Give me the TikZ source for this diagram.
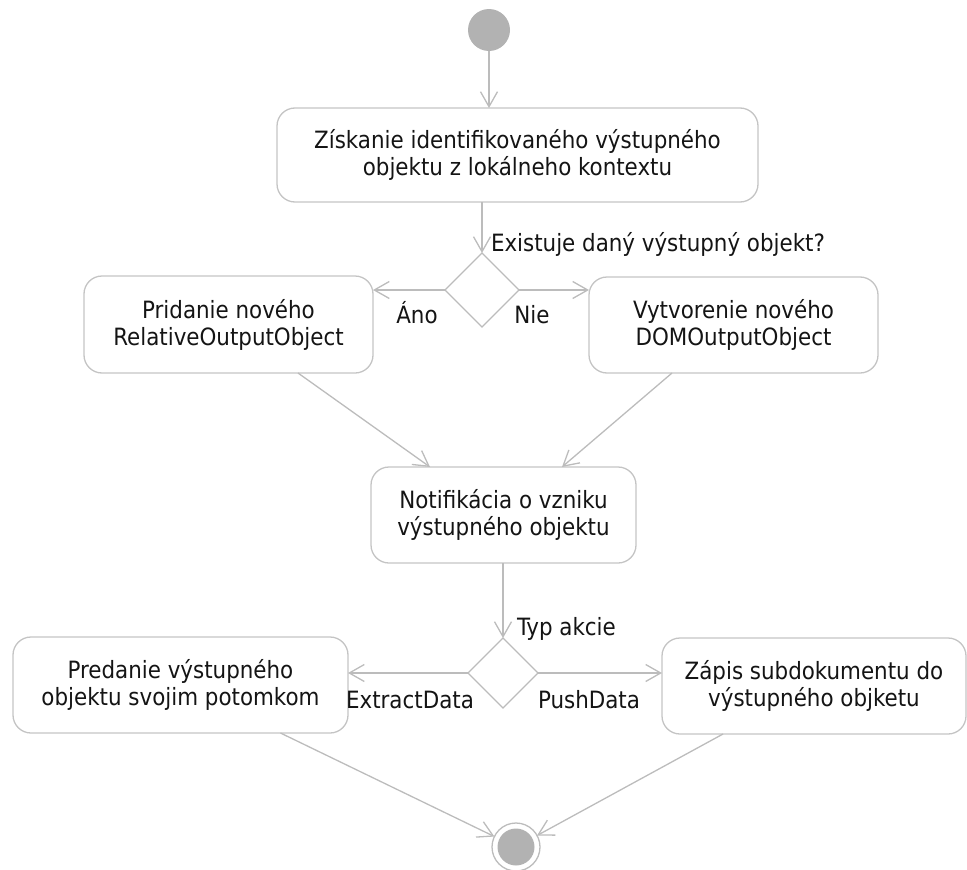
\documentclass[tikz,border=0pt]{standalone}
\usepackage{fontspec}
\setmainfont{DejaVu Sans Condensed}
\usetikzlibrary{arrows.meta,shapes.geometric}
\definecolor{linegray}{RGB}{188,188,188}
\definecolor{boxgray}{RGB}{196,196,196}
\definecolor{fillgray}{RGB}{178,178,178}
\definecolor{txt}{RGB}{20,20,20}
\begin{document}
\begin{tikzpicture}[x=1pt,y=-1pt,
  every node/.style={inner sep=0pt, outer sep=0pt, text=txt, font=\fontsize{23.8}{27}\selectfont},
  actbox/.style={draw=boxgray, line width=1.3pt, rounded corners=18pt, align=center, rectangle,
    execute at begin node={\rule{0pt}{24pt}}},
  decision/.style={draw=linegray, line width=1.3pt, diamond, aspect=1},
  arr/.style={draw=linegray, line width=1.3pt, -{Straight Barb[length=15pt,width=17pt]}},
  lbl/.style={anchor=base}
]
\useasboundingbox (0,0) rectangle (967,870);

% start
\node[circle, fill=fillgray, minimum size=42pt] (start) at (489,30) {};

% activities
\node[actbox, minimum width=481pt, minimum height=94pt] (b1) at (517.5,155)
  {Získanie identifikovaného výstupného\\objektu z lokálneho kontextu};
\node[decision, minimum size=74pt] (d1) at (482,290) {};
\node[actbox, minimum width=289pt, minimum height=97pt] (b2) at (228.5,324.5)
  {Pridanie nového\\RelativeOutputObject};
\node[actbox, minimum width=289pt, minimum height=96pt] (b3) at (733.5,325)
  {Vytvorenie nového\\DOMOutputObject};
\node[actbox, minimum width=265pt, minimum height=96pt] (b4) at (503.5,515)
  {Notifikácia o vzniku\\výstupného objektu};
\node[decision, minimum size=70pt] (d2) at (503,673) {};
\node[actbox, minimum width=335pt, minimum height=96pt] (b5) at (180.5,685)
  {Predanie výstupného\\objektu svojim potomkom};
\node[actbox, minimum width=304pt, minimum height=96pt] (b6) at (814,686)
  {Zápis subdokumentu do\\výstupného objketu};

% end
\node[circle, draw=linegray, line width=1.3pt, minimum size=48pt,
  path picture={\fill[fillgray] (path picture bounding box.center) circle (18.5pt);}] (end) at (516,847) {};

% labels
\node[lbl, anchor=base west] (q1) at (491,251) {Existuje daný výstupný objekt?};
\node[lbl] (ano) at (417,323) {Áno};
\node[lbl] (nie) at (532,323) {Nie};
\node[lbl, anchor=base west] (q2) at (517,635) {Typ akcie};
\node[lbl] (ex) at (410,708) {ExtractData};
\node[lbl] (pu) at (589,708) {PushData};

% connectors
\draw[arr] (start.south) -- (start.south |- b1.north);
\draw[arr] (d1.north |- b1.south) -- (d1.north);
\draw[arr] (d1.west) -- (d1.west -| b2.east);
\draw[arr] (d1.east) -- (d1.east -| b3.west);
\draw[arr] ([xshift=69.5pt]b2.south) -- ([xshift=-73.5pt]b4.north);
\draw[arr] ([xshift=-61.5pt]b3.south) -- ([xshift=58.5pt]b4.north);
\draw[arr] (d2.north |- b4.south) -- (d2.north);
\draw[arr] (d2.west) -- (d2.west -| b5.east);
\draw[arr] (d2.east) -- (d2.east -| b6.west);
\draw[arr] ([xshift=100pt]b5.south) -- (end);
\draw[arr] ([xshift=-91pt]b6.south) -- (end);
\end{tikzpicture}
\end{document}
